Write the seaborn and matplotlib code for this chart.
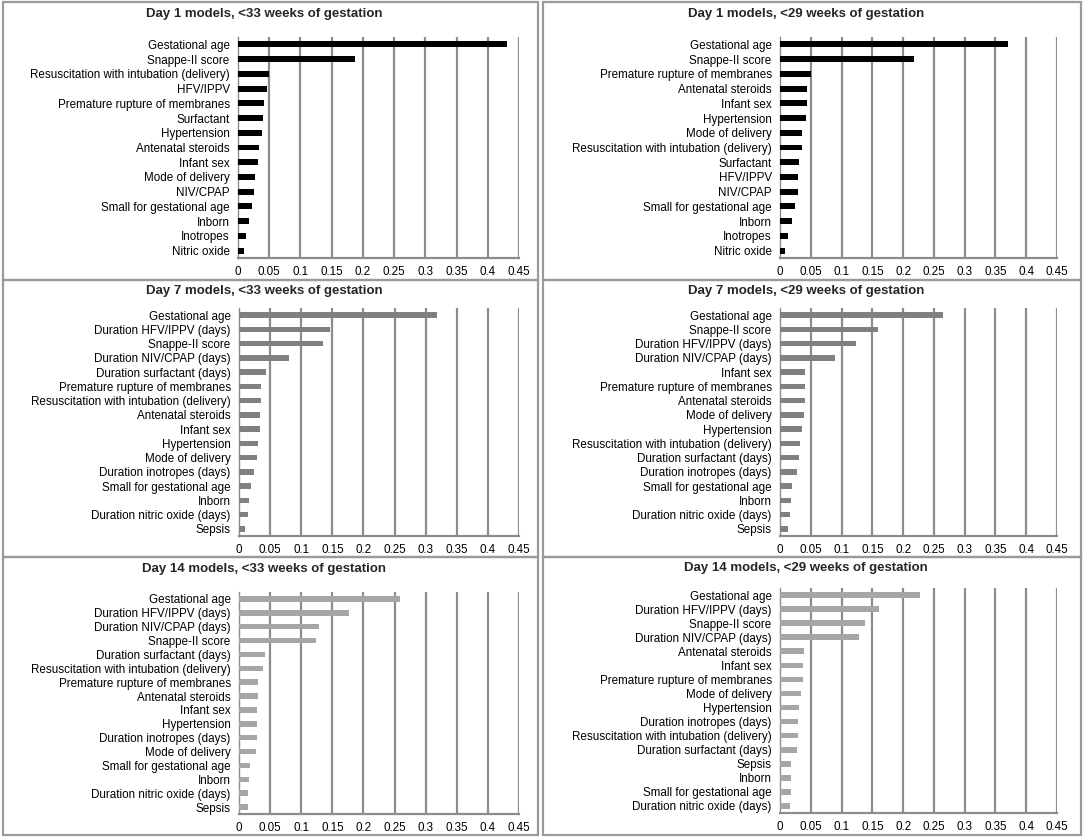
import numpy as np
import pandas as pd
import matplotlib
matplotlib.use("Agg")
import matplotlib.pyplot as plt
from matplotlib.patches import Rectangle
from matplotlib.ticker import FuncFormatter, FixedLocator
import seaborn as sns

sns.set_theme(style="white")
plt.rcParams["font.family"] = ["Liberation Sans", "DejaVu Sans"]

# ---- data (importance values) ----
d1_33_labels = ["Gestational age", "Snappe-II score", "Resuscitation with intubation (delivery)",
                "HFV/IPPV", "Premature rupture of membranes", "Surfactant", "Hypertension",
                "Antenatal steroids", "Infant sex", "Mode of delivery", "NIV/CPAP",
                "Small for gestational age", "Inborn", "Inotropes", "Nitric oxide"]
d1_33_values = [0.430, 0.187, 0.050, 0.046, 0.041, 0.040, 0.038, 0.034, 0.032, 0.028,
                0.025, 0.022, 0.017, 0.013, 0.010]

d1_29_labels = ["Gestational age", "Snappe-II score", "Premature rupture of membranes",
                "Antenatal steroids", "Infant sex", "Hypertension", "Mode of delivery",
                "Resuscitation with intubation (delivery)", "Surfactant", "HFV/IPPV", "NIV/CPAP",
                "Small for gestational age", "Inborn", "Inotropes", "Nitric oxide"]
d1_29_values = [0.370, 0.218, 0.050, 0.044, 0.044, 0.043, 0.036, 0.035, 0.031, 0.030,
                0.029, 0.024, 0.020, 0.013, 0.008]

d7_33_labels = ["Gestational age", "Duration HFV/IPPV (days)", "Snappe-II score",
                "Duration NIV/CPAP (days)", "Duration surfactant (days)",
                "Premature rupture of membranes", "Resuscitation with intubation (delivery)",
                "Antenatal steroids", "Infant sex", "Hypertension", "Mode of delivery",
                "Duration inotropes (days)", "Small for gestational age", "Inborn",
                "Duration nitric oxide (days)", "Sepsis"]
d7_33_values = [0.318, 0.146, 0.135, 0.080, 0.043, 0.035, 0.035, 0.034, 0.033, 0.031,
                0.029, 0.024, 0.019, 0.016, 0.014, 0.009]

d7_29_labels = ["Gestational age", "Snappe-II score", "Duration HFV/IPPV (days)",
                "Duration NIV/CPAP (days)", "Infant sex", "Premature rupture of membranes",
                "Antenatal steroids", "Mode of delivery", "Hypertension",
                "Resuscitation with intubation (delivery)", "Duration surfactant (days)",
                "Duration inotropes (days)", "Small for gestational age", "Inborn",
                "Duration nitric oxide (days)", "Sepsis"]
d7_29_values = [0.264, 0.159, 0.124, 0.089, 0.041, 0.041, 0.041, 0.039, 0.035, 0.033,
                0.031, 0.028, 0.020, 0.018, 0.016, 0.013]

d14_33_labels = ["Gestational age", "Duration HFV/IPPV (days)", "Duration NIV/CPAP (days)",
                 "Snappe-II score", "Duration surfactant (days)",
                 "Resuscitation with intubation (delivery)", "Premature rupture of membranes",
                 "Antenatal steroids", "Infant sex", "Hypertension", "Duration inotropes (days)",
                 "Mode of delivery", "Small for gestational age", "Inborn",
                 "Duration nitric oxide (days)", "Sepsis"]
d14_33_values = [0.258, 0.176, 0.129, 0.123, 0.042, 0.038, 0.031, 0.030, 0.029, 0.029,
                 0.029, 0.027, 0.017, 0.016, 0.015, 0.014]

d14_29_labels = ["Gestational age", "Duration HFV/IPPV (days)", "Snappe-II score",
                 "Duration NIV/CPAP (days)", "Antenatal steroids", "Infant sex",
                 "Premature rupture of membranes", "Mode of delivery", "Hypertension",
                 "Duration inotropes (days)", "Resuscitation with intubation (delivery)",
                 "Duration surfactant (days)", "Sepsis", "Inborn", "Small for gestational age",
                 "Duration nitric oxide (days)"]
d14_29_values = [0.228, 0.161, 0.138, 0.128, 0.039, 0.038, 0.037, 0.034, 0.031, 0.029,
                 0.029, 0.028, 0.018, 0.018, 0.018, 0.017]

titles = ["Day 1 models, <33 weeks of gestation", "Day 1 models, <29 weeks of gestation",
          "Day 7 models, <33 weeks of gestation", "Day 7 models, <29 weeks of gestation",
          "Day 14 models, <33 weeks of gestation", "Day 14 models, <29 weeks of gestation"]
x_ticks = [0, 0.05, 0.1, 0.15, 0.2, 0.25, 0.3, 0.35, 0.4, 0.45]

panels = [
    (d1_33_labels, d1_33_values, "#000000"),
    (d1_29_labels, d1_29_values, "#000000"),
    (d7_33_labels, d7_33_values, "#808080"),
    (d7_29_labels, d7_29_values, "#808080"),
    (d14_33_labels, d14_33_values, "#a6a6a6"),
    (d14_29_labels, d14_29_values, "#a6a6a6"),
]

W, H = 1084, 838
fig = plt.figure(figsize=(W / 100, H / 100), dpi=100)
fig.patch.set_facecolor("white")

# layout in pixels: frame boxes and plot areas
frames = [(3, 2, 535, 278), (543, 2, 538, 278),
          (3, 280, 535, 277), (543, 280, 538, 277),
          (3, 557, 535, 278), (543, 557, 538, 278)]
plot_areas = [(238, 37, 281, 221), (780, 37, 277, 221),
              (239, 308, 280, 228), (780, 308, 277, 228),
              (239, 592, 280, 222), (780, 588, 277, 225)]
title_y = [14, 14, 291, 291, 569, 568]

grid_col = "#8c8c8c"

for i, (labels, values, color) in enumerate(panels):
    fx, fy, fw, fh = frames[i]
    fig.add_artist(Rectangle((fx / W, 1 - (fy + fh) / H), fw / W, fh / H,
                             transform=fig.transFigure, fill=False,
                             edgecolor="#9a9a9a", linewidth=1.6))
    px, py, pw, ph = plot_areas[i]
    ax = fig.add_axes([px / W, 1 - (py + ph) / H, pw / W, ph / H])
    df = pd.DataFrame({"feature": labels, "importance": values})
    sns.barplot(data=df, x="importance", y="feature", orient="h", color=color,
                width=0.4, saturation=1, linewidth=0, ax=ax, zorder=3)
    ax.set_xlim(0, 0.45)
    ax.set_ylim(len(labels) - 0.5, -0.5)
    ax.xaxis.set_major_locator(FixedLocator(x_ticks))
    ax.xaxis.set_major_formatter(FuncFormatter(lambda v, p: f"{v:g}"))
    ax.set_xlabel("")
    ax.set_ylabel("")
    ax.grid(False)
    ax.vlines(x_ticks[1:], -0.5, len(labels) - 0.5, colors=grid_col,
              linewidth=1.6, zorder=1)
    for s in ["top", "right"]:
        ax.spines[s].set_visible(False)
    ax.spines["left"].set_color(grid_col)
    ax.spines["left"].set_linewidth(1.0)
    ax.spines["bottom"].set_color(grid_col)
    ax.spines["bottom"].set_linewidth(1.6)
    ax.tick_params(axis="x", length=0, labelsize=8.4, pad=6, colors="black")
    ax.tick_params(axis="y", length=0, labelsize=8.4, pad=6, colors="black")
    ax.set_yticks(np.arange(-0.5, len(labels), 1.0), minor=True)
    ax.tick_params(axis="y", which="minor", length=4, color=grid_col, width=1)
    cx = (fx + fw / 2 - 6) / W
    fig.text(cx, 1 - title_y[i] / H, titles[i], ha="center", va="center",
             fontsize=9.5, fontweight="bold")

fig.savefig("out.png", dpi=100, facecolor="white")
